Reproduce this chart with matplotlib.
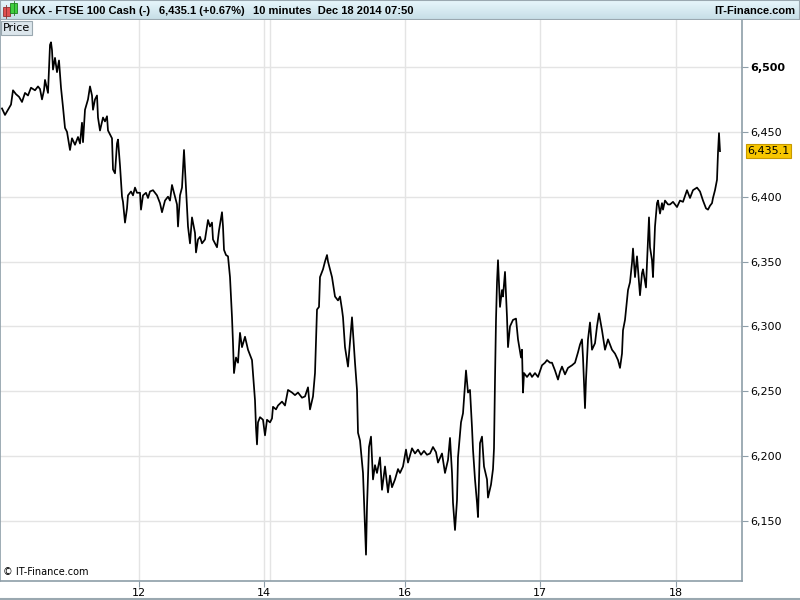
import numpy as np
import matplotlib.pyplot as plt
from matplotlib.patches import Rectangle
from matplotlib.colors import LinearSegmentedColormap
from matplotlib.ticker import FuncFormatter

# ==========================[Data]=============================
# bar position (10 minute bars, ~1 per pixel) and price
bars = [2, 5, 8, 11, 13, 16, 19, 22, 25, 28, 31, 35, 38, 40, 42, 44, 45, 48, 50, 51,
        52, 53, 55, 57, 59, 61, 63, 65, 67, 70, 72, 75, 78, 80, 82, 83, 85, 88, 90, 92,
        93, 95, 97, 98, 100, 103, 105, 107, 108, 112, 113, 115, 117, 118, 120, 122, 123, 125, 127, 128,
        131, 133, 135, 137, 140, 141, 143, 146, 148, 150, 153, 155, 157, 160, 162, 165, 168, 170, 172, 175,
        177, 178, 180, 182, 184, 185, 187, 188, 190, 192, 195, 196, 198, 200, 202, 205, 208, 210, 212, 213,
        215, 217, 219, 222, 223, 224, 226, 228, 230, 232, 233, 234, 236, 238, 240, 242, 245, 248, 252, 253,
        255, 256, 257, 258, 260, 263, 265, 267, 270, 272, 273, 276, 278, 282, 285, 288, 292, 295, 298, 302,
        305, 308, 310, 313, 315, 317, 319, 320, 323, 325, 327, 328, 330, 332, 335, 338, 340, 342, 343, 345,
        348, 352, 355, 357, 358, 360, 363, 365, 366, 367, 369, 371, 373, 375, 377, 380, 382, 385, 388, 390,
        392, 395, 398, 400, 403, 406, 408, 412, 415, 418, 421, 424, 427, 430, 433, 436, 438, 442, 445, 448,
        450, 452, 453, 455, 457, 458, 461, 463, 466, 468, 470, 472, 473, 475, 477, 478, 480, 482, 484, 487,
        488, 491, 493, 494, 495, 496, 497, 498, 500, 502, 503, 505, 507, 508, 510, 513, 516, 518, 521, 522,
        523, 524, 527, 530, 532, 535, 538, 542, 545, 547, 550, 552, 555, 558, 560, 562, 565, 568, 572, 575,
        578, 580, 582, 583, 585, 586, 588, 590, 592, 595, 597, 599, 602, 605, 608, 612, 615, 618, 620, 622,
        623, 625, 627, 628, 630, 632, 633, 635, 637, 640, 642, 643, 646, 647, 649, 650, 652, 653, 655, 657,
        658, 660, 662, 663, 665, 668, 670, 673, 677, 680, 683, 687, 690, 693, 697, 700, 703, 706, 708, 710,
        712, 713, 715, 717, 718, 719, 720]

price = [6468, 6463, 6467, 6471, 6482, 6479, 6477, 6473, 6480, 6478, 6484, 6482, 6485, 6483, 6475, 6482, 6490, 6480, 6517, 6519,
         6513, 6498, 6507, 6496, 6505, 6484, 6469, 6453, 6450, 6436, 6445, 6440, 6446, 6441, 6457, 6442, 6467, 6475, 6485, 6478,
         6467, 6475, 6478, 6461, 6451, 6461, 6458, 6462, 6451, 6445, 6421, 6418, 6441, 6444, 6424, 6400, 6396, 6380, 6391, 6401,
         6404, 6401, 6407, 6403, 6403, 6390, 6401, 6403, 6399, 6404, 6405, 6403, 6401, 6395, 6388, 6397, 6400, 6397, 6409, 6400,
         6394, 6377, 6401, 6407, 6436, 6421, 6390, 6377, 6364, 6384, 6372, 6357, 6367, 6369, 6364, 6367, 6382, 6377, 6380, 6367,
         6364, 6361, 6374, 6388, 6377, 6359, 6355, 6354, 6338, 6307, 6287, 6264, 6276, 6272, 6295, 6284, 6292, 6282, 6274, 6264,
         6243, 6222, 6209, 6226, 6230, 6228, 6216, 6228, 6226, 6229, 6238, 6236, 6239, 6242, 6239, 6251, 6249, 6247, 6249, 6245,
         6246, 6253, 6236, 6246, 6264, 6313, 6315, 6338, 6344, 6350, 6355, 6350, 6344, 6338, 6323, 6320, 6323, 6313, 6307, 6284,
         6269, 6307, 6272, 6251, 6218, 6212, 6187, 6145, 6124, 6161, 6207, 6215, 6182, 6193, 6187, 6199, 6174, 6192, 6172, 6185,
         6176, 6182, 6190, 6187, 6192, 6205, 6195, 6206, 6202, 6205, 6201, 6204, 6201, 6202, 6207, 6203, 6195, 6202, 6187, 6197,
         6214, 6187, 6164, 6143, 6166, 6199, 6226, 6233, 6266, 6249, 6251, 6222, 6205, 6182, 6164, 6153, 6210, 6215, 6192, 6182,
         6168, 6178, 6190, 6206, 6259, 6305, 6334, 6351, 6315, 6328, 6323, 6342, 6307, 6284, 6300, 6305, 6306, 6290, 6276, 6282,
         6249, 6264, 6261, 6264, 6261, 6264, 6261, 6270, 6272, 6274, 6272, 6272, 6266, 6259, 6265, 6269, 6263, 6268, 6270, 6272,
         6280, 6286, 6290, 6276, 6237, 6259, 6290, 6303, 6282, 6287, 6300, 6310, 6297, 6282, 6290, 6282, 6279, 6274, 6268, 6279,
         6297, 6305, 6320, 6328, 6334, 6349, 6360, 6338, 6354, 6324, 6341, 6344, 6330, 6349, 6384, 6361, 6351, 6338, 6377, 6395,
         6397, 6387, 6395, 6390, 6397, 6394, 6394, 6396, 6392, 6397, 6396, 6405, 6399, 6405, 6407, 6404, 6397, 6391, 6390, 6393,
         6395, 6399, 6405, 6413, 6434, 6449, 6435.1]

day_ticks = [139, 264, 405, 540, 676]
day_labels = ['12', '14', '16', '17', '18']
week_start = 270
y_ticks = [6150, 6200, 6250, 6300, 6350, 6400, 6450, 6500]
last_price = 6435.1

title_parts = ['UKX - FTSE 100 Cash (-)', '6,435.1 (+0.67%)', '10 minutes  Dec 18 2014 07:50']

# ==========================[Figure]=============================
fig = plt.figure(figsize=(8, 6), dpi=100)
grid_col = '#e4e4e4'
axis_col = '#8e9ea8'
hfont = 'Liberation Sans'

ax = fig.add_axes([0.0, 19 / 600, 742 / 800, 561 / 600])
ax.set_xlim(0, 742)
ax.set_ylim(6103.7, 6536.2)

for t in y_ticks:
    ax.axhline(t, color=grid_col, lw=1, zorder=0)
for t in day_ticks + [week_start]:
    ax.axvline(t, color=grid_col, lw=1, zorder=0)

ax.plot(bars, price, color='black', lw=1.25, zorder=3)

ax.yaxis.tick_right()
ax.set_yticks(y_ticks)
ax.yaxis.set_major_formatter(FuncFormatter(lambda v, p: f'{v:,.0f}'))
ax.set_xticks(day_ticks)
ax.set_xticklabels(day_labels)
ax.tick_params(axis='y', direction='out', length=4, width=0.8, colors=axis_col,
               labelcolor='black', labelsize=8, pad=2)
ax.tick_params(axis='x', direction='out', length=4, width=0.8, colors=axis_col,
               labelcolor='black', labelsize=8, pad=1)
for lab in ax.get_yticklabels():
    if lab.get_text() == '6,500':
        lab.set_fontweight('bold')

ax.spines['top'].set_visible(False)
for side in ['right', 'bottom', 'left']:
    ax.spines[side].set_color(axis_col)
    ax.spines[side].set_linewidth(1.2)

# last price tag
ax.annotate(f'{last_price:,.1f}', xy=(1.0, last_price), xycoords=('axes fraction', 'data'),
            xytext=(4, 0), textcoords='offset points', va='center', ha='left', fontsize=8,
            bbox=dict(boxstyle='square,pad=0.15', fc='#f7c600', ec='#c89a00', lw=0.8))

# "Price" label and copyright
ax.annotate('Price', xy=(0, 1), xycoords='axes fraction', xytext=(2, -2), textcoords='offset points',
            ha='left', va='top', fontsize=8,
            bbox=dict(boxstyle='square,pad=0.2', fc='#dce6ec', ec='#9aa8b0', lw=0.8))
ax.text(0.004, 0.008, '© IT-Finance.com', transform=ax.transAxes, ha='left', va='bottom', fontsize=7)

# header bar
hdr = fig.add_axes([0, 580 / 600, 1, 20 / 600])
grad = np.linspace(0, 1, 50).reshape(-1, 1)
hdr.imshow(grad, aspect='auto', cmap=LinearSegmentedColormap.from_list('hdr', ['#e8f7fc', '#c5dde6']),
           extent=[0, 1, 0, 1], origin='upper')
hdr.set_xlim(0, 1)
hdr.set_ylim(0, 1)
hdr.axis('off')
hdr.add_patch(Rectangle((0, 0), 1, 1, fill=False, ec='#9aa8b0', lw=1.5, transform=hdr.transAxes))
# small candle icon
hdr.add_patch(Rectangle((0.004, 0.2), 0.008, 0.45, fc='#e05050', ec='#903030', lw=0.6))
hdr.plot([0.008, 0.008], [0.1, 0.75], color='#903030', lw=0.6)
hdr.add_patch(Rectangle((0.013, 0.35), 0.008, 0.5, fc='#40d040', ec='#208020', lw=0.6))
hdr.plot([0.017, 0.017], [0.25, 0.95], color='#208020', lw=0.6)
for txt, xp in zip(title_parts, [22, 159, 253]):
    hdr.text(xp / 800, 0.45, txt, ha='left', va='center', fontsize=8, fontweight='bold', family=hfont)
hdr.text(0.994, 0.45, 'IT-Finance.com', ha='right', va='center', fontsize=8, fontweight='bold', family=hfont)

# bottom border
fig.add_artist(plt.Line2D([0, 1], [0.002, 0.002], color='#9aa8b0', lw=1.5))

fig.savefig('out.png', dpi=100)
